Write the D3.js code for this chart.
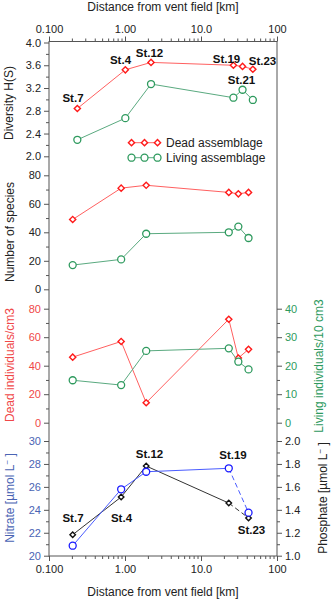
<!DOCTYPE html>
<html lang="en">
<head>
<meta charset="UTF-8">
<title>Stations vs distance</title>
<script src="https://d3js.org/d3.v7.min.js"></script>
<style>
  body { margin: 0; background: #fff; }
  svg text { font-family: "Liberation Sans", Arial, sans-serif; }
  .axis path, .axis line { stroke: #555; }
  .axis text { font-size: 11px; }
</style>
</head>
<body>
<div id="chart"></div>
<script>
// station labels and distance from vent field (km)
const stations = ["St.7", "St.4", "St.12", "St.19", "St.21", "St.23"];
const distance = [0.205, 0.89, 1.9, 23.2, 31, 42.2];
// the diversity panel is plotted slightly shifted in the original figure
const distanceDiv = [0.236, 1.01, 2.2, 26.7, 35.2, 48.1];

const diversityDead = [2.84, 3.52, 3.65, 3.60, 3.58, 3.53];
const diversityLiving = [2.29, 2.67, 3.27, 3.03, 3.17, 2.99];

const speciesDead = [49, 71, 73, 68, 67, 68];
const speciesLiving = [17, 21, 39, 40, 44, 36];

const densityDead = [46, 57, 14, 72.6, 45.4, 51.5];     // per cm3
const densityLiving = [14.9, 13.2, 25.2, 26.1, 21.4, 18.7]; // per 10 cm3

// nutrients only measured at 5 stations
const nutStations = ["St.7", "St.4", "St.12", "St.19", "St.23"];
const nutDistance = [0.205, 0.89, 1.9, 23.2, 42.2];
const nitrate = [20.87, 25.79, 27.32, 27.62, 23.75];
const phosphate = [1.183, 1.512, 1.782, 1.459, 1.329];

const xTicks = [0.1, 1, 10, 100];
const xTickLabels = ["0.100", "1.00", "10.0", "100"];

const W = 332, H = 600;
const fLeft = 49, fRight = 277, fTop = 41.5, fBottom = 556;

const RED = "#ff1a1a", RED_LINE = "#ff6060", RED_TXT = "#f04848";
const GREEN = "#2e9a5e", GREEN_LINE = "#5aaa80";
const BLUE = "#1a1aff", BLUE_LINE = "#4a5cff", BLUE_TXT = "#4a64b4";

const svg = d3.select("#chart").append("svg")
  .attr("width", W).attr("height", H);

const x = d3.scaleLog().domain([0.1, 100]).range([fLeft, fRight]);
const minorX = [];
[0.1, 1, 10].forEach(d => { for (let k = 2; k <= 9; k++) minorX.push(d * k); });

// panel scales
const yDiv = d3.scaleLinear().domain([2, 4]).range([156.3, 42.5]);
const ySpec = d3.scaleLinear().domain([0, 80]).range([289.3, 175.3]);
const yDead = d3.scaleLinear().domain([0, 80]).range([422.7, 308.7]);
const yLive = d3.scaleLinear().domain([0, 40]).range([422.7, 308.7]);
const yNit = d3.scaleLinear().domain([20, 30]).range([555.7, 441]);
const yPho = d3.scaleLinear().domain([1, 2]).range([555.7, 441]);

function yAxis(scale, side, major, minor, fmt, color) {
  const mk = side === "left" ? d3.axisLeft : d3.axisRight;
  const xpos = side === "left" ? fLeft : fRight;
  const g = svg.append("g").attr("class", "axis")
    .attr("transform", `translate(${xpos},0)`)
    .call(mk(scale).tickValues(major).tickSize(5).tickPadding(3).tickFormat(fmt));
  g.select(".domain").remove();
  g.selectAll("text").attr("fill", color);
  const m = svg.append("g").attr("class", "axis")
    .attr("transform", `translate(${xpos},0)`)
    .call(mk(scale).tickValues(minor).tickSize(3).tickFormat(""));
  m.select(".domain").remove();
}

yAxis(yDiv, "left", [2, 2.4, 2.8, 3.2, 3.6, 4], [2.2, 2.6, 3.0, 3.4, 3.8], d3.format(".1f"), "#222");
yAxis(ySpec, "left", [0, 20, 40, 60, 80], [10, 30, 50, 70], d3.format("d"), "#222");
yAxis(yDead, "left", [0, 20, 40, 60, 80], [10, 30, 50, 70], d3.format("d"), RED_TXT);
yAxis(yLive, "right", [0, 10, 20, 30, 40], [5, 15, 25, 35], d3.format("d"), GREEN);
yAxis(yNit, "left", [20, 22, 24, 26, 28, 30], [21, 23, 25, 27, 29], d3.format("d"), BLUE_TXT);
yAxis(yPho, "right", [1, 1.2, 1.4, 1.6, 1.8, 2], [1.1, 1.3, 1.5, 1.7, 1.9], d3.format(".1f"), "#222");

// x axes top and bottom
function xAxis(ypos, mk) {
  const g = svg.append("g").attr("class", "axis")
    .attr("transform", `translate(0,${ypos})`)
    .call(mk(x).tickValues(xTicks).tickSize(5).tickPadding(4)
      .tickFormat((d, i) => xTickLabels[i]));
  g.select(".domain").remove();
  g.selectAll("text").attr("fill", "#222");
  const m = svg.append("g").attr("class", "axis")
    .attr("transform", `translate(0,${ypos})`)
    .call(mk(x).tickValues(minorX).tickSize(3).tickFormat(""));
  m.select(".domain").remove();
}
xAxis(fTop, d3.axisTop);
xAxis(fBottom, d3.axisBottom);

// frame
svg.append("rect")
  .attr("x", fLeft).attr("y", fTop)
  .attr("width", fRight - fLeft).attr("height", fBottom - fTop)
  .attr("fill", "none").attr("stroke", "#555");

// axis titles
svg.append("text").attr("x", 163).attr("y", 11).attr("text-anchor", "middle")
  .attr("font-size", 12).attr("fill", "#222").text("Distance from vent field [km]");
svg.append("text").attr("x", 163).attr("y", 596).attr("text-anchor", "middle")
  .attr("font-size", 12).attr("fill", "#222").text("Distance from vent field [km]");

function vTitle(xpos, ycen, txt, color) {
  return svg.append("text")
    .attr("transform", `translate(${xpos},${ycen}) rotate(-90)`)
    .attr("text-anchor", "middle").attr("font-size", 12).attr("fill", color)
    .text(txt);
}
vTitle(13, 103, "Diversity H(S)", "#222");
vTitle(14, 232, "Number of species", "#222");
vTitle(14, 365, "Dead individuals/cm3", RED_TXT);
vTitle(323, 366, "Living individuals/10 cm3", GREEN);

function nutTitle(xpos, ycen, name, color) {
  const t = svg.append("text")
    .attr("transform", `translate(${xpos},${ycen}) rotate(-90)`)
    .attr("text-anchor", "middle").attr("font-size", 12).attr("fill", color);
  t.append("tspan").text(name + " [µmol L");
  t.append("tspan").attr("dy", -4).attr("font-size", 8).text("−");
  t.append("tspan").attr("dy", 4).text(" ]");
}
nutTitle(14, 498, "Nitrate", BLUE_TXT);
nutTitle(327, 498, "Phosphate", "#222");

// markers
function diamonds(xs, ys, yScale, color, r) {
  svg.append("g").selectAll("path").data(ys).join("path")
    .attr("d", d3.symbol(d3.symbolDiamond2, r * r * 2))
    .attr("transform", (d, i) => `translate(${x(xs[i])},${yScale(d)})`)
    .attr("fill", "#fff").attr("stroke", color).attr("stroke-width", 1.4);
}
function circles(xs, ys, yScale, color) {
  svg.append("g").selectAll("circle").data(ys).join("circle")
    .attr("cx", (d, i) => x(xs[i])).attr("cy", d => yScale(d)).attr("r", 3.5)
    .attr("fill", "#fff").attr("stroke", color).attr("stroke-width", 1.3);
}
function series(xs, ys, yScale, color, lineColor, kind, dashLast) {
  const pts = ys.map((d, i) => [x(xs[i]), yScale(d)]);
  const n = pts.length;
  const solid = dashLast ? pts.slice(0, n - 1) : pts;
  svg.append("path").attr("d", d3.line()(solid))
    .attr("fill", "none").attr("stroke", lineColor).attr("stroke-width", 1);
  if (dashLast) {
    svg.append("path").attr("d", d3.line()(pts.slice(n - 2)))
      .attr("fill", "none").attr("stroke", lineColor).attr("stroke-width", 1)
      .attr("stroke-dasharray", "5,3");
  }
  if (kind === "diamond") diamonds(xs, ys, yScale, color, 3.5);
  else if (kind === "sdiamond") diamonds(xs, ys, yScale, color, 3.1);
  else circles(xs, ys, yScale, color);
}

series(distanceDiv, diversityDead, yDiv, RED, RED_LINE, "diamond");
series(distanceDiv, diversityLiving, yDiv, GREEN, GREEN_LINE, "circle");
series(distance, speciesDead, ySpec, RED, RED_LINE, "diamond");
series(distance, speciesLiving, ySpec, GREEN, GREEN_LINE, "circle");
series(distance, densityDead, yDead, RED, RED_LINE, "diamond");
series(distance, densityLiving, yLive, GREEN, GREEN_LINE, "circle");
series(nutDistance, phosphate, yPho, "#111", "#333", "sdiamond", true);
series(nutDistance, nitrate, yNit, BLUE, BLUE_LINE, "circle", true);

// legend
const legend = [
  { name: "Dead assemblage", color: RED, line: RED_LINE, kind: "diamond", y: 142.7 },
  { name: "Living assemblage", color: GREEN, line: GREEN_LINE, kind: "circle", y: 157.7 }
];
legend.forEach(l => {
  svg.append("line").attr("x1", 131.5).attr("x2", 157.5).attr("y1", l.y).attr("y2", l.y)
    .attr("stroke", l.line);
  [131.5, 144.5, 157.5].forEach(px => {
    if (l.kind === "diamond") {
      svg.append("path").attr("d", d3.symbol(d3.symbolDiamond2, 3.5 * 3.5 * 2))
        .attr("transform", `translate(${px},${l.y})`)
        .attr("fill", "#fff").attr("stroke", l.color).attr("stroke-width", 1.4);
    } else {
      svg.append("circle").attr("cx", px).attr("cy", l.y).attr("r", 3.5)
        .attr("fill", "#fff").attr("stroke", l.color).attr("stroke-width", 1.3);
    }
  });
  svg.append("text").attr("x", 166).attr("y", l.y + 4).attr("font-size", 12)
    .attr("fill", "#222").text(l.name);
});

// station labels
const divLabelPos = [[73, 102], [120.5, 64], [149.5, 57], [226.5, 63], [241.5, 84], [262.5, 65]];
svg.append("g").selectAll("text").data(stations).join("text")
  .attr("x", (d, i) => divLabelPos[i][0]).attr("y", (d, i) => divLabelPos[i][1])
  .attr("text-anchor", "middle").attr("font-size", 11.5).attr("font-weight", "bold")
  .attr("fill", "#111").text(d => d);

const nutLabelPos = [[73, 522], [121.5, 522], [149.5, 458], [233, 459], [251.5, 534]];
svg.append("g").selectAll("text").data(nutStations).join("text")
  .attr("x", (d, i) => nutLabelPos[i][0]).attr("y", (d, i) => nutLabelPos[i][1])
  .attr("text-anchor", "middle").attr("font-size", 11.5).attr("font-weight", "bold")
  .attr("fill", "#111").text(d => d);
</script>
</body>
</html>
